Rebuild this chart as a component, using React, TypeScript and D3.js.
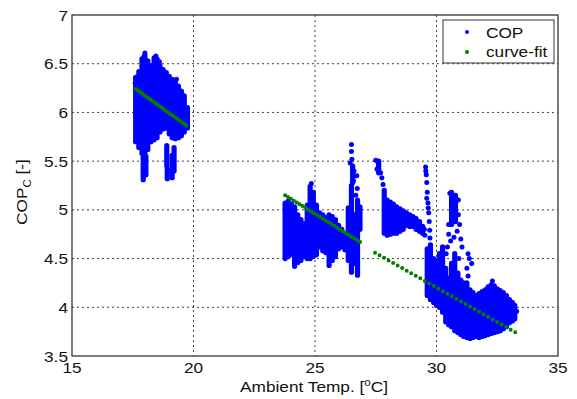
import React from 'react';
import * as d3 from 'd3';

// Dense runs of COP readings: [ambient temp, cop low, cop high]
const copRunsWinter: [number, number, number][] = [
  [17.62, 5.7, 6.36], [17.75, 5.64, 6.42], [17.88, 5.58, 6.55], [18.0, 5.56, 6.59],
  [18.12, 5.62, 6.53], [18.25, 5.7, 6.48], [18.38, 5.72, 6.56], [18.5, 5.74, 6.55],
  [18.62, 5.8, 6.48], [18.75, 5.83, 6.44], [18.88, 5.84, 6.41], [19.0, 5.78, 6.37],
  [19.12, 5.74, 6.34], [19.25, 5.73, 6.31], [19.38, 5.74, 6.27], [19.5, 5.76, 6.22],
  [19.62, 5.8, 6.17], [19.75, 5.84, 6.05],
  [17.93, 5.31, 5.62], [18.04, 5.36, 5.55],
  [18.9, 5.45, 5.66], [18.92, 5.32, 5.42], [19.12, 5.33, 5.56], [19.2, 5.4, 5.64],
];

const copRunsSpring: [number, number, number][] = [
  [23.77, 4.5, 5.07], [23.9, 4.52, 5.09], [24.03, 4.54, 5.06], [24.16, 4.42, 5.03],
  [24.29, 4.46, 4.95], [24.42, 4.48, 4.9], [24.55, 4.52, 4.86], [24.68, 4.5, 5.05],
  [24.8, 4.5, 5.24], [24.93, 4.52, 5.18], [25.06, 4.54, 5.05], [25.19, 4.62, 4.97],
  [25.32, 4.58, 4.95], [25.45, 4.56, 4.92], [25.58, 4.43, 4.95], [25.71, 4.48, 4.93],
  [25.84, 4.52, 4.9], [25.97, 4.6, 4.84], [26.1, 4.62, 4.8], [26.23, 4.59, 4.76],
  [26.37, 4.48, 5.02], [26.5, 4.36, 5.25], [26.62, 4.45, 4.95], [26.75, 4.33, 5.1],
  [26.85, 4.8, 5.03], [26.55, 5.28, 5.45],
];

const copRunsSummer: [number, number, number][] = [
  [27.85, 4.76, 5.2], [27.97, 4.74, 5.1], [28.1, 4.75, 5.08], [28.23, 4.76, 5.06],
  [28.36, 4.76, 5.03], [28.5, 4.78, 5.01], [28.63, 4.8, 4.99], [28.76, 4.84, 4.97],
  [28.9, 4.83, 4.95], [29.03, 4.83, 4.93], [29.16, 4.8, 4.91], [29.3, 4.78, 4.88],
  [29.43, 4.76, 4.83],
  [29.62, 4.12, 4.6], [29.75, 4.08, 4.64], [29.88, 4.05, 4.5], [30.0, 4.02, 4.48],
  [30.12, 4.0, 4.55], [30.25, 3.95, 4.62], [30.38, 3.85, 4.4], [30.5, 3.82, 4.3],
  [30.62, 3.8, 4.45], [30.75, 3.76, 4.55], [30.88, 3.74, 4.35], [31.0, 3.72, 4.28],
  [31.12, 3.7, 4.25], [31.25, 3.69, 4.25], [31.38, 3.68, 4.18], [31.5, 3.69, 4.15],
  [31.62, 3.7, 4.12], [31.75, 3.69, 4.14], [31.88, 3.7, 4.16], [32.0, 3.71, 4.18],
  [32.12, 3.72, 4.21], [32.25, 3.73, 4.23], [32.38, 3.74, 4.22], [32.5, 3.75, 4.19],
  [32.62, 3.76, 4.17], [32.75, 3.78, 4.15], [32.88, 3.8, 4.12], [33.0, 3.84, 4.08],
  [33.12, 3.86, 4.05], [33.22, 3.88, 4.02],
  [30.62, 4.85, 5.18], [30.78, 4.88, 5.15], [27.62, 5.38, 5.5],
];

// Scattered single readings
const copPoints: [number, number][] = [
  [18.0, 6.61], [17.95, 6.57], [18.45, 6.58], [18.6, 6.52], [19.3, 6.34], [17.6, 6.3],
  [26.5, 5.67], [26.5, 5.6], [26.52, 5.52], [26.45, 5.48], [26.6, 5.4], [26.58, 5.3],
  [26.72, 5.35], [26.74, 5.22], [24.85, 5.27], [26.68, 5.15],
  [27.5, 5.51], [27.6, 5.48], [27.55, 5.42], [27.7, 5.38], [27.75, 5.33], [27.8, 5.26],
  [29.55, 5.44], [29.58, 5.36], [29.6, 5.28], [29.62, 5.18], [29.65, 5.07], [29.68, 4.97],
  [29.7, 4.88], [29.72, 4.79], [29.73, 4.71], [29.52, 4.74], [29.5, 4.8], [29.56, 5.4],
  [29.6, 5.12], [29.66, 5.02],
  [30.55, 5.17], [30.65, 5.15], [30.9, 5.1], [30.95, 4.85], [30.5, 4.75], [30.58, 4.68],
  [30.72, 4.72], [30.85, 4.78], [31.0, 4.7], [31.05, 4.62], [31.3, 4.55], [31.35, 4.5],
  [31.45, 4.45], [30.45, 4.62], [30.4, 4.55], [31.25, 4.4], [31.3, 4.32], [30.92, 4.5],
  [32.3, 4.27], [33.3, 3.96], [30.5, 4.85], [30.9, 4.95],
];

// Curve-fit segments: [temp, cop] end points
const fitSegments: [number, number][][] = [
  [[17.63, 6.24], [19.79, 5.85]],
  [[23.77, 5.15], [26.92, 4.66]],
  [[27.47, 4.56], [33.27, 3.74]],
];

const xTicks = [15, 20, 25, 30, 35];
const yTicks = [3.5, 4, 4.5, 5, 5.5, 6, 6.5, 7];

const font = '"Liberation Sans", Arial, sans-serif';
const blue = '#0000ff';
const green = '#008000';
const fitDash = ['0 2.6', '0 3.4', '0 5.2'];

export default function App() {
  const left = 72, right = 558, top = 15, bottom = 356;
  const x = d3.scaleLinear().domain([15, 35]).range([left, right]);
  const y = d3.scaleLinear().domain([3.5, 7]).range([bottom, top]);
  const line = d3.line<[number, number]>().x((d) => x(d[0])).y((d) => y(d[1]));
  const runs = [...copRunsWinter, ...copRunsSpring, ...copRunsSummer];
  const stretch = 'scale(1.15,1)';

  return (
    <svg width={577} height={399} style={{ position: 'absolute', left: 0, top: 0, background: '#fff' }} fontFamily={font}>
      {/* grid */}
      {xTicks.slice(1, -1).map((t) => (
        <line key={'gx' + t} x1={x(t)} x2={x(t)} y1={top} y2={bottom} stroke="#000" strokeOpacity={0.75} strokeDasharray="2 3" />
      ))}
      {yTicks.slice(1, -1).map((t) => (
        <line key={'gy' + t} x1={left} x2={right} y1={y(t)} y2={y(t)} stroke="#000" strokeOpacity={0.75} strokeDasharray="2 3" />
      ))}

      {/* COP data */}
      <g stroke={blue} strokeWidth={5.2} strokeLinecap="round">
        {runs.map((r, i) => (
          <line key={'r' + i} x1={x(r[0])} x2={x(r[0])} y1={y(r[1])} y2={y(r[2])} />
        ))}
      </g>
      <g fill={blue}>
        {copPoints.map((p, i) => (
          <circle key={'p' + i} cx={x(p[0])} cy={y(p[1])} r={2.5} />
        ))}
      </g>

      {/* curve fit */}
      {fitSegments.map((s, i) => (
        <path key={'f' + i} d={line(s) || ''} fill="none" stroke={green} strokeWidth={4} strokeLinecap="round" strokeDasharray={fitDash[i]} />
      ))}

      {/* axes box */}
      <rect x={left} y={top} width={right - left} height={bottom - top} fill="none" stroke="#333" strokeWidth={1.3} />

      {/* tick labels */}
      {xTicks.map((t) => (
        <text key={'tx' + t} transform={`translate(${x(t)},373) ${stretch}`} textAnchor="middle" fontSize={15} fill="#111">
          {t}
        </text>
      ))}
      {yTicks.map((t) => (
        <text key={'ty' + t} transform={`translate(68,${y(t) + 5.5}) ${stretch}`} textAnchor="end" fontSize={15} fill="#111">
          {t}
        </text>
      ))}

      {/* axis titles */}
      <text transform={`translate(314,392) ${stretch}`} textAnchor="middle" fontSize={15} fill="#111">
        Ambient Temp. [<tspan dy={-6} fontSize={10}>o</tspan>
        <tspan dy={6}>C]</tspan>
      </text>
      <text transform={`translate(27,192) rotate(-90) ${stretch}`} textAnchor="middle" fontSize={15} fill="#111">
        COP<tspan dy={4} fontSize={10}>C</tspan>
        <tspan dy={-4}> [-]</tspan>
      </text>

      {/* legend */}
      <rect x={443} y={20} width={111} height={43} fill="#fff" stroke="#333" strokeWidth={1} />
      <circle cx={467} cy={32} r={2} fill={blue} />
      <circle cx={467} cy={52} r={2} fill={green} />
      <text transform={`translate(486,37.5) ${stretch}`} fontSize={15} fill="#111">COP</text>
      <text transform={`translate(486,57) ${stretch}`} fontSize={15} fill="#111">curve-fit</text>
    </svg>
  );
}
